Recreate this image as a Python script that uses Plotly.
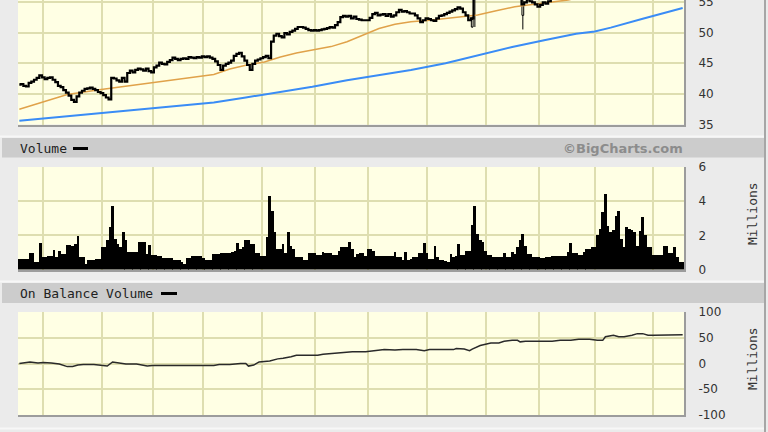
import plotly.graph_objects as go

# ---------------- data ----------------
N_DAYS = 250
days = list(range(N_DAYS))

price_close = [
    41.5, 41.6, 41.3, 41.2, 41.8, 42.0, 42.3, 42.6, 43.0, 42.7,
    42.4, 42.6, 42.7, 42.3, 41.9, 41.3, 41.1, 40.6, 40.2, 39.7,
    39.0, 38.7, 39.6, 40.2, 40.5, 40.8, 40.9, 41.0, 40.8, 40.6,
    40.3, 40.1, 39.8, 39.4, 39.1, 42.6, 42.5, 42.2, 42.0, 42.6,
    42.0, 43.4, 43.8, 43.5, 43.9, 44.1, 44.0, 43.8, 44.1, 43.7,
    43.5, 44.3, 44.6, 45.1, 44.9, 44.8, 45.2, 45.5, 45.9, 45.7,
    45.5, 45.7, 45.8, 45.7, 46.0, 45.9, 45.8, 46.0, 45.9, 46.1,
    46.0, 46.1, 45.9, 45.7, 45.3, 44.7, 43.9, 44.6, 44.9, 45.1,
    45.4, 46.2, 46.5, 46.7, 46.1, 45.4, 44.7, 43.9, 44.9, 45.4,
    45.6, 45.8, 46.0, 46.2, 45.8, 48.5, 49.5, 49.8, 49.4, 49.2,
    49.9, 49.7, 50.1, 50.3, 50.6, 50.9, 50.9, 50.8, 50.6, 50.4,
    50.3, 50.4, 50.3, 50.4, 50.5, 50.6, 50.7, 50.9, 50.8, 51.2,
    51.7, 52.5, 52.7, 52.6, 52.7, 52.3, 52.6, 52.2, 52.1, 52.0,
    52.0, 52.0, 52.4, 53.0, 53.2, 52.8, 52.9, 53.0, 52.7, 53.0,
    52.6, 52.8, 53.3, 53.7, 53.4, 53.5, 53.3, 53.1, 53.1, 52.8,
    52.3, 51.7, 52.0, 52.3, 52.2, 52.0, 51.9, 52.3, 52.7, 52.8,
    53.0, 53.2, 53.4, 53.6, 53.8, 54.1, 53.9, 53.3, 52.8, 52.0,
    52.3, 57.5, 57.0, 57.4, 57.2, 57.8, 58.1, 57.6, 57.9, 58.3,
    58.0, 57.5, 57.8, 57.2, 56.8, 56.4, 56.0, 55.9, 55.5, 54.6,
    54.9, 55.4, 55.1, 54.9, 54.6, 54.2, 54.5, 54.9, 54.7, 55.1,
    55.6, 56.0, 56.4, 56.9, 57.3, 57.1, 57.6, 58.0, 58.4, 58.2,
    58.7, 59.0, 58.6, 59.2, 59.5, 59.1, 59.8, 60.2, 59.7, 59.3,
    59.9, 60.4, 60.1, 59.6, 60.3, 60.8, 60.5, 61.0, 60.6, 60.2,
    60.9, 61.3, 61.0, 60.6, 61.2, 61.5, 61.1, 60.8, 61.4, 61.7,
    61.3, 61.0, 61.6, 61.9, 61.5, 61.2, 61.6, 61.8, 61.4, 61.7,
]

# wide-range days drawn as candles
cand_days = [170, 171, 189]
cand_open = [50.9, 56.0, 52.8]
cand_high = [52.6, 58.0, 56.0]
cand_low = [50.8, 50.9, 50.5]
cand_close = [52.3, 57.5, 54.6]

# 50-day moving average (orange)
ma50_days = [0, 11, 18, 30, 42, 55, 62, 67, 73, 79, 85, 92, 98, 104, 110, 117,
             123, 129, 135, 141, 147, 154, 160, 166, 172, 179, 186, 191, 197,
             206, 215, 225, 235, 249]
ma50_vals = [37.5, 38.9, 39.9, 40.65, 41.35, 42.0, 42.4, 42.75, 43.15, 44.05,
             44.65, 45.2, 46.0, 46.65, 47.1, 47.7, 48.5, 49.6, 50.65, 51.35,
             51.75, 52.0, 52.3, 52.55, 52.85, 53.55, 54.2, 54.5, 54.85, 55.3,
             56.2, 57.2, 58.2, 59.6]

# 200-day moving average (blue)
ma200_days = [0, 11, 23, 36, 48, 61, 73, 85, 98, 110, 123, 135, 147, 160, 172,
              185, 197, 209, 216, 222, 234, 249]
ma200_vals = [35.6, 36.05, 36.45, 37.0, 37.5, 38.0, 38.6, 39.4, 40.25, 41.15,
              42.2, 43.0, 43.9, 45.0, 46.25, 47.65, 48.75, 49.8, 50.15, 50.8,
              52.25, 54.0]

# daily volume, millions
volume_m = [
    0.62, 0.62, 0.62, 0.62, 0.97, 0.95, 0.45, 0.45, 1.56, 0.72,
    0.72, 0.78, 0.78, 1.17, 0.72, 1.10, 0.90, 0.90, 1.44, 1.44,
    1.35, 1.50, 1.95, 0.72, 0.72, 0.33, 0.53, 0.55, 0.55, 0.62,
    0.62, 1.30, 1.30, 1.70, 2.48, 3.74, 1.80, 1.50, 1.30, 2.20,
    1.70, 1.05, 1.05, 1.05, 1.05, 1.60, 1.60, 1.60, 0.90, 1.44,
    0.86, 0.86, 0.78, 0.78, 0.66, 0.66, 0.66, 0.66, 0.58, 0.58,
    0.58, 0.45, 0.33, 0.66, 0.66, 0.78, 0.78, 0.78, 0.78, 0.70,
    0.53, 0.53, 0.53, 0.92, 0.92, 0.92, 0.97, 0.97, 0.97, 0.97,
    1.00, 1.10, 1.56, 1.20, 1.30, 1.75, 1.75, 1.50, 1.50, 0.97,
    0.97, 0.80, 0.80, 1.90, 4.33, 3.40, 2.18, 1.20, 1.20, 1.50,
    0.97, 2.18, 1.40, 1.20, 0.72, 0.72, 0.72, 0.58, 0.58, 0.97,
    0.97, 0.97, 0.82, 0.82, 1.05, 0.97, 0.97, 0.97, 0.86, 0.86,
    1.10, 1.30, 1.30, 1.30, 1.60, 1.20, 0.72, 0.90, 0.97, 0.97,
    0.80, 1.20, 1.20, 1.10, 0.80, 0.78, 0.78, 0.78, 0.78, 0.78,
    0.78, 1.00, 0.72, 0.72, 0.53, 1.00, 0.53, 0.60, 0.72, 0.72,
    0.97, 0.97, 1.56, 0.97, 0.62, 0.62, 1.40, 0.72, 0.58, 0.58,
    0.50, 0.43, 0.90, 0.72, 0.80, 1.50, 0.82, 0.82, 1.10, 1.10,
    2.60, 3.74, 2.08, 1.70, 1.60, 1.10, 0.82, 0.82, 0.72, 0.72,
    0.72, 0.72, 0.97, 0.72, 0.72, 1.00, 0.90, 1.30, 1.70, 2.08,
    1.40, 0.90, 0.90, 0.72, 0.72, 0.72, 0.66, 0.66, 0.72, 0.72,
    0.78, 0.78, 0.78, 0.78, 0.78, 0.80, 1.00, 1.56, 0.97, 0.97,
    0.86, 0.86, 1.00, 1.20, 1.20, 1.30, 1.30, 2.00, 2.38, 3.35,
    4.42, 2.57, 2.18, 2.30, 3.16, 3.45, 1.80, 1.30, 2.48, 2.40,
    2.30, 2.20, 1.40, 2.28, 3.06, 2.00, 1.30, 1.30, 0.86, 0.86,
    0.86, 0.86, 1.40, 1.40, 0.97, 0.97, 1.30, 0.72, 0.45, 0.45,
]

# on balance volume, millions
obv_days = [0, 4, 7, 9, 12, 15, 18, 20, 22, 24, 28, 31, 33, 35, 37, 40, 44, 46,
            48, 50, 54, 57, 62, 66, 70, 73, 75, 79, 83, 85, 86, 88, 90, 94, 97,
            99, 102, 104, 108, 112, 114, 118, 121, 125, 130, 134, 137, 141, 144,
            149, 152, 154, 157, 163, 164, 167, 169, 170, 173, 175, 177, 180, 182,
            185, 187, 188, 190, 195, 200, 203, 207, 210, 214, 217, 219, 220, 223,
            225, 227, 230, 232, 234, 236, 238, 242, 246, 249]
obv_vals = [0, 3, 1, 2, 1, -1, -6, -6, -3, -2, -2, -4, -5, 3, 1, -1, -1, -3,
            -5, -4, -4, -3, -3, -3, -3, -4, -2, -2, 0, 0, -5, -3, 3, 5, 9,
            10, 13, 16, 16, 16, 18, 20, 22, 23, 23, 25, 27, 26, 27,
            27, 25, 27, 27, 27, 29, 28, 25, 28, 35, 38, 40, 40, 43,
            45, 45, 42, 43, 43, 43, 45, 45, 47, 47, 45, 45, 52, 55,
            52, 52, 55, 58, 58, 55, 55, 55, 55, 56]

month_grid_days = [9, 31, 50, 69, 91, 111, 131, 153, 175, 195, 216, 238]
price_ticks = [35, 40, 45, 50, 55]
volume_ticks = [0, 2, 4, 6]
obv_ticks = [-100, -50, 0, 50, 100]

# ---------------- geometry / style ----------------
W, H = 768, 432
PL, PR = 18, 684
BG = "#EBEBEB"
PLOT_BG = "#FFFFE4"
GRID = "#DEDEB0"
EDGE = "#9C9C9C"


def px(x):
    return (x - PL) / (PR - PL)


def py(y):
    return 1 - y / H


fig = go.Figure()

# price panel
fig.add_trace(go.Scatter(x=ma200_days, y=ma200_vals, mode="lines",
                         line=dict(color="#3A8CF6", width=2),
                         xaxis="x", yaxis="y", hoverinfo="skip"))
fig.add_trace(go.Scatter(x=ma50_days, y=ma50_vals, mode="lines",
                         line=dict(color="#E0A24A", width=1.5),
                         xaxis="x", yaxis="y", hoverinfo="skip"))
fig.add_trace(go.Scatter(x=days, y=price_close, mode="lines",
                         line=dict(color="#000000", width=2.2, shape="hvh"),
                         xaxis="x", yaxis="y"))
fig.add_trace(go.Candlestick(x=cand_days, open=cand_open, high=cand_high,
                             low=cand_low, close=cand_close,
                             increasing=dict(line=dict(color="#000000", width=1),
                                             fillcolor=PLOT_BG),
                             decreasing=dict(line=dict(color="#000000", width=1),
                                             fillcolor=PLOT_BG),
                             whiskerwidth=0, xaxis="x", yaxis="y"))

# volume panel
fig.add_trace(go.Bar(x=days, y=volume_m, width=1.05,
                     marker=dict(color="#000000", line=dict(width=0)),
                     xaxis="x2", yaxis="y2"))

# OBV panel
fig.add_trace(go.Scatter(x=obv_days, y=obv_vals, mode="lines",
                         line=dict(color="#2A2A2A", width=1.5),
                         xaxis="x3", yaxis="y3"))

xcommon = dict(range=[-0.5, N_DAYS - 0.5], tickvals=month_grid_days,
               showticklabels=False, showgrid=True, gridcolor=GRID, gridwidth=2,
               zeroline=False, showline=True, linecolor=EDGE, linewidth=2,
               ticks="", fixedrange=True, automargin=False)
tickfont = dict(family="DejaVu Sans", size=12, color="#333333")
ycommon = dict(side="right", showgrid=True, gridcolor=GRID, gridwidth=2,
               zeroline=False, showline=True, linecolor=EDGE, linewidth=2,
               ticks="", tickfont=tickfont, ticklabelstandoff=10,
               ticklabeloverflow="allow",
               fixedrange=True, automargin=False)

fig.update_layout(
    template="none",
    width=W, height=H,
    margin=dict(l=PL, r=W - PR, t=0, b=0, pad=0),
    paper_bgcolor=BG, plot_bgcolor=PLOT_BG,
    showlegend=False, bargap=0, boxgap=0.05,
    xaxis=dict(xcommon, domain=[0, 1], anchor="y", rangeslider=dict(visible=False)),
    xaxis2=dict(xcommon, domain=[0, 1], anchor="y2", matches="x"),
    xaxis3=dict(xcommon, domain=[0, 1], anchor="y3", matches="x"),
    yaxis=dict(ycommon, domain=[py(124.5), 1], anchor="x", range=[35, 55.3],
               tickvals=price_ticks, ticktext=[str(v) for v in price_ticks]),
    yaxis2=dict(ycommon, domain=[py(269.5), py(167)], anchor="x2", range=[0, 6],
                tickvals=volume_ticks, ticktext=[str(v) for v in volume_ticks]),
    yaxis3=dict(ycommon, domain=[py(415), py(312)], anchor="x3", range=[-100, 100],
                tickvals=obv_ticks, ticktext=[str(v) for v in obv_ticks]),
)

shapes = []
# header bars
for y0, y1 in [(138, 157.5), (283, 303)]:
    shapes.append(dict(type="rect", xref="paper", yref="paper", layer="below",
                       x0=px(2), x1=px(764), y0=py(y1), y1=py(y0),
                       fillcolor="#CCCCCC", line=dict(width=0)))
# light separator lines
for y in [136.5, 281.5, 428.5]:
    shapes.append(dict(type="line", xref="paper", yref="paper", layer="below",
                       x0=px(0), x1=px(764), y0=py(y), y1=py(y),
                       line=dict(color="#F7F7F7", width=2)))
# right frame line
shapes.append(dict(type="line", xref="paper", yref="paper", layer="below",
                   x0=px(765), x1=px(765), y0=0 - 0.01, y1=1.01,
                   line=dict(color="#A6A6A6", width=2)))
# legend dashes
shapes.append(dict(type="rect", xref="paper", yref="paper",
                   x0=px(73), x1=px(88), y0=py(150), y1=py(147),
                   fillcolor="#000000", line=dict(width=0)))
shapes.append(dict(type="rect", xref="paper", yref="paper",
                   x0=px(161), x1=px(177), y0=py(295), y1=py(292),
                   fillcolor="#000000", line=dict(width=0)))

header_font = dict(family="DejaVu Sans Mono", size=13, color="#222222")
annotations = [
    dict(text="Volume", x=px(18), y=py(148.5), xref="paper", yref="paper",
         xanchor="left", yanchor="middle", showarrow=False, font=header_font),
    dict(text="On Balance Volume", x=px(18), y=py(293.5), xref="paper", yref="paper",
         xanchor="left", yanchor="middle", showarrow=False, font=header_font),
    dict(text="<b>©BigCharts.com</b>", x=px(685), y=py(148), xref="paper", yref="paper",
         xanchor="right", yanchor="middle", showarrow=False,
         font=dict(family="DejaVu Sans", size=13, color="#8C8C8C")),
    dict(text="Millions", x=px(752), y=py(214), xref="paper", yref="paper",
         xanchor="center", yanchor="middle", textangle=-90, showarrow=False,
         font=dict(family="DejaVu Sans Mono", size=13, color="#333333")),
    dict(text="Millions", x=px(752), y=py(359), xref="paper", yref="paper",
         xanchor="center", yanchor="middle", textangle=-90, showarrow=False,
         font=dict(family="DejaVu Sans Mono", size=13, color="#333333")),
]

fig.update_layout(shapes=shapes, annotations=annotations)

fig.write_html(
    "out.html",
    config=dict(displayModeBar=False),
    post_script="document.body.style.margin='0';document.body.style.overflow='hidden';",
)
